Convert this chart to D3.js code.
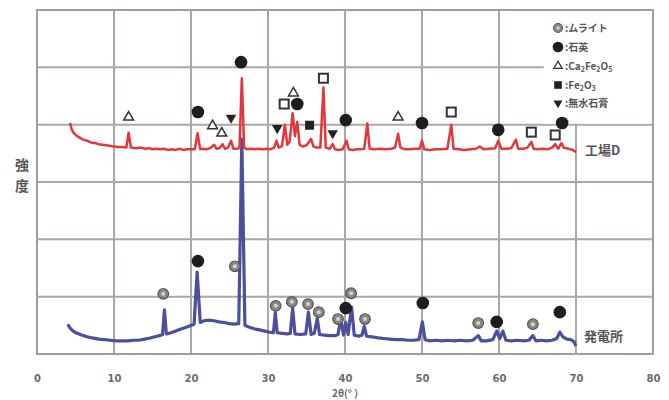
<!DOCTYPE html>
<html>
<head>
<meta charset="utf-8">
<script src="https://cdn.jsdelivr.net/npm/d3@7"></script>
<style>
  body { margin: 0; background: #fff; }
  svg { display: block; font-family: "Noto Sans CJK JP", "Noto Sans", sans-serif; }
</style>
</head>
<body>
<svg id="chart" width="669" height="400"></svg>
<script>
// 2θ axis
const xTicks = [0, 10, 20, 30, 40, 50, 60, 70, 80];
const yGrid = [1, 2, 3, 4, 5];

// 工場D pattern: [2θ, intensity]
const plantD = [
  [4.3, 4.03], [4.5, 3.92], [4.8, 3.85], [5.2, 3.80], [5.6, 3.77], [6, 3.74], [6.5, 3.72], [7, 3.69],
  [7.5, 3.68], [8, 3.66], [8.5, 3.65], [9, 3.64], [9.5, 3.63], [10, 3.62], [10.5, 3.61], [11, 3.61],
  [11.6, 3.60], [11.9, 3.86], [12.2, 3.60], [12.8, 3.59], [13.5, 3.60], [14, 3.58], [14.5, 3.59],
  [15, 3.57], [15.5, 3.58], [16, 3.57], [16.5, 3.58], [17, 3.56], [17.5, 3.57], [18, 3.56], [18.5, 3.58],
  [19, 3.56], [19.5, 3.57], [20, 3.57], [20.5, 3.57], [20.85, 3.85], [21.2, 3.57], [21.6, 3.58],
  [22, 3.57], [22.5, 3.59], [23.0, 3.65], [23.3, 3.58], [23.7, 3.59], [24.1, 3.66], [24.4, 3.58],
  [24.8, 3.60], [25.2, 3.72], [25.5, 3.58], [26.0, 3.58], [26.3, 3.60], [26.6, 4.81], [26.9, 3.60],
  [27.3, 3.57], [27.8, 3.58], [28.3, 3.57], [28.8, 3.58], [29.3, 3.57], [29.8, 3.58], [30.3, 3.57],
  [30.8, 3.60], [31.1, 3.72], [31.4, 3.60], [31.8, 3.62], [32.2, 4.00], [32.5, 3.65], [32.8, 3.70],
  [33.2, 4.20], [33.5, 3.80], [33.8, 4.05], [34.1, 3.65], [34.5, 3.62], [35.0, 3.64], [35.6, 3.75],
  [35.9, 3.62], [36.3, 3.60], [36.8, 3.60], [37.2, 4.65], [37.5, 3.60], [38.0, 3.58], [38.4, 3.66],
  [38.7, 3.57], [39.2, 3.56], [39.7, 3.57], [40.2, 3.72], [40.5, 3.57], [41.0, 3.56], [41.5, 3.57],
  [42.0, 3.57], [42.5, 3.58], [42.9, 4.02], [43.2, 3.58], [43.8, 3.57], [44.5, 3.58], [45.2, 3.57],
  [46.0, 3.58], [46.5, 3.60], [46.9, 3.84], [47.2, 3.60], [47.8, 3.57], [48.5, 3.57], [49.2, 3.58],
  [49.7, 3.58], [50.0, 3.72], [50.3, 3.57], [51, 3.56], [51.8, 3.57], [52.5, 3.57], [53.3, 3.58],
  [53.8, 4.00], [54.1, 3.58], [54.8, 3.57], [55.5, 3.56], [56.3, 3.57], [57.0, 3.58], [57.5, 3.62],
  [58, 3.57], [58.8, 3.58], [59.5, 3.59], [59.9, 3.72], [60.3, 3.58], [61, 3.58], [61.6, 3.59],
  [62.2, 3.74], [62.5, 3.58], [63.2, 3.58], [63.7, 3.60], [64.2, 3.70], [64.5, 3.58], [65, 3.57],
  [65.7, 3.58], [66.3, 3.57], [66.9, 3.60], [67.3, 3.66], [67.7, 3.58], [68.1, 3.68], [68.4, 3.60],
  [69, 3.58], [69.6, 3.56], [70, 3.52]
];

// 発電所 pattern: [2θ, intensity]
const powerPlant = [
  [4.0, 0.52], [4.3, 0.45], [4.7, 0.40], [5.2, 0.36], [5.8, 0.33], [6.5, 0.30], [7.2, 0.28], [8, 0.26],
  [8.8, 0.25], [9.5, 0.24], [10.3, 0.23], [11, 0.23], [11.8, 0.23], [12.5, 0.24], [13.2, 0.24],
  [14, 0.26], [14.7, 0.28], [15.3, 0.30], [15.9, 0.32], [16.3, 0.34], [16.55, 0.77], [16.8, 0.35],
  [17.4, 0.37], [18, 0.40], [18.6, 0.43], [19.2, 0.46], [19.8, 0.49], [20.4, 0.52], [20.8, 1.43],
  [21.2, 0.55], [21.7, 0.58], [22.3, 0.59], [23, 0.58], [23.6, 0.56], [24.3, 0.55], [25, 0.53],
  [25.6, 0.52], [26.2, 0.53], [26.6, 3.75], [27.0, 0.50], [27.5, 0.47], [28.2, 0.44], [28.9, 0.42],
  [29.6, 0.40], [30.3, 0.38], [30.7, 0.37], [30.95, 0.72], [31.2, 0.37], [31.8, 0.36], [32.5, 0.35],
  [32.9, 0.36], [33.2, 0.80], [33.5, 0.35], [34.2, 0.34], [34.9, 0.35], [35.25, 0.73], [35.6, 0.34],
  [36.0, 0.36], [36.4, 0.62], [36.7, 0.34], [37.3, 0.33], [38.0, 0.32], [38.7, 0.32], [39.1, 0.34],
  [39.45, 0.63], [39.8, 0.33], [40.1, 0.55], [40.4, 0.34], [40.85, 0.82], [41.2, 0.33], [41.8, 0.31],
  [42.2, 0.33], [42.5, 0.48], [42.8, 0.31], [43.5, 0.30], [44.3, 0.28], [45, 0.27], [45.8, 0.26],
  [46.6, 0.25], [47.4, 0.25], [48.2, 0.24], [49, 0.24], [49.6, 0.25], [50.05, 0.56], [50.4, 0.25],
  [51, 0.23], [51.8, 0.24], [52.6, 0.23], [53.4, 0.24], [54.2, 0.23], [55, 0.24], [55.8, 0.23],
  [56.6, 0.24], [57.3, 0.32], [57.7, 0.23], [58.4, 0.23], [59.2, 0.25], [59.7, 0.40], [60.1, 0.27],
  [60.5, 0.40], [60.9, 0.24], [61.6, 0.23], [62.4, 0.24], [63.2, 0.23], [63.9, 0.24], [64.4, 0.32],
  [64.8, 0.23], [65.5, 0.24], [66.2, 0.23], [66.9, 0.24], [67.5, 0.27], [67.9, 0.38], [68.3, 0.30],
  [68.8, 0.26], [69.3, 0.25], [69.7, 0.22], [70, 0.14]
];

// peak identification marks: [kind, 2θ, height]
const plantDMarks = [
  ['tri', 11.9, 4.13], ['qtz', 20.9, 4.22], ['tri', 22.8, 3.98], ['tri', 24.0, 3.85], ['anh', 25.2, 4.12],
  ['qtz', 26.5, 5.09], ['anh', 31.2, 3.94], ['hem', 32.1, 4.36], ['tri', 33.3, 4.55], ['qtz', 33.8, 4.36],
  ['sq', 35.4, 3.99], ['hem', 37.2, 4.81], ['anh', 38.4, 3.85], ['qtz', 40.1, 4.08], ['tri', 46.9, 4.13],
  ['qtz', 50.0, 4.03], ['hem', 53.8, 4.22], ['qtz', 59.9, 3.91], ['hem', 64.2, 3.87], ['hem', 67.3, 3.82],
  ['qtz', 68.2, 4.03]
];
const powerPlantMarks = [
  ['mul', 16.4, 1.05], ['qtz', 20.9, 1.62], ['mul', 25.7, 1.53], ['mul', 31.0, 0.84], ['mul', 33.1, 0.91],
  ['mul', 35.2, 0.87], ['mul', 36.6, 0.73], ['mul', 39.1, 0.61], ['qtz', 40.1, 0.80], ['mul', 40.8, 1.06],
  ['mul', 42.6, 0.61], ['qtz', 50.1, 0.89], ['mul', 57.3, 0.54], ['qtz', 59.7, 0.56], ['mul', 64.4, 0.52],
  ['qtz', 67.9, 0.73]
];

const legendKinds = ['mul', 'qtz', 'tri', 'sq', 'anh'];
const legendNames = [['ムライト'], ['石英'], ['Ca', '2', 'Fe', '2', 'O', '5'], ['Fe', '2', 'O', '3'], ['無水石膏']];

const svg = d3.select('#chart');
const x = d3.scaleLinear().domain([0, 80]).range([37, 653]);
const y = d3.scaleLinear().domain([0, 6]).range([354, 10]);
const gridColor = '#ada6a3';

// grid
svg.append('g').selectAll('line.v').data(xTicks.slice(1, -1)).join('line')
  .attr('x1', d => x(d)).attr('x2', d => x(d))
  .attr('y1', y(6)).attr('y2', y(0))
  .attr('stroke', gridColor).attr('stroke-width', 2);
svg.append('g').selectAll('line.h').data(yGrid).join('line')
  .attr('x1', x(0)).attr('x2', x(80))
  .attr('y1', d => y(d)).attr('y2', d => y(d))
  .attr('stroke', gridColor).attr('stroke-width', 2);

// legend area blanks the grid
svg.append('rect')
  .attr('x', x(65.8)).attr('y', y(6) + 1)
  .attr('width', x(80) - x(65.8) - 1).attr('height', y(4) - y(6) - 2)
  .attr('fill', '#fff');

svg.append('rect')
  .attr('x', x(0)).attr('y', y(6))
  .attr('width', x(80) - x(0)).attr('height', y(0) - y(6))
  .attr('fill', 'none').attr('stroke', '#a29d9b').attr('stroke-width', 2);

// x axis labels
const xAxis = svg.append('g')
  .attr('transform', `translate(0,${y(0)})`)
  .call(d3.axisBottom(x).tickValues(xTicks).tickSize(0).tickPadding(21));
xAxis.select('.domain').remove();
xAxis.selectAll('text')
  .attr('font-size', 10).attr('font-weight', 'bold').attr('fill', '#6b6b6b')
  .attr('font-family', '"DejaVu Sans", sans-serif');

svg.append('text')
  .attr('x', 345).attr('y', 397)
  .attr('text-anchor', 'middle')
  .attr('font-size', 10).attr('font-weight', 'bold').attr('fill', '#666')
  .text('2θ(° )');

svg.append('text')
  .attr('x', 22).attr('y', 170)
  .attr('text-anchor', 'middle')
  .attr('font-size', 14).attr('font-weight', 'bold').attr('fill', '#555')
  .text('強');
svg.append('text')
  .attr('x', 22).attr('y', 191)
  .attr('text-anchor', 'middle')
  .attr('font-size', 14).attr('font-weight', 'bold').attr('fill', '#555')
  .text('度');

// spectra
const line = d3.line().x(d => x(d[0])).y(d => y(d[1]));
svg.append('path').datum(powerPlant)
  .attr('d', line).attr('fill', 'none')
  .attr('stroke', '#4b4f9c').attr('stroke-width', 3.2).attr('stroke-linejoin', 'round');
svg.append('path').datum(plantD)
  .attr('d', line).attr('fill', 'none')
  .attr('stroke', '#e2383c').attr('stroke-width', 2.5).attr('stroke-linejoin', 'round');

svg.append('text')
  .attr('x', 585).attr('y', y(3.56) + 5)
  .attr('font-size', 13).attr('font-weight', 'bold').attr('fill', '#555')
  .text('工場D');
svg.append('text')
  .attr('x', 584).attr('y', y(0.3) + 4)
  .attr('font-size', 13).attr('font-weight', 'bold').attr('fill', '#555')
  .text('発電所');

// marks
function drawMark(g, kind, cx, cy) {
  const m = g.append('g').attr('transform', `translate(${cx},${cy})`);
  if (kind === 'qtz') {
    m.append('circle').attr('r', 6.3).attr('fill', '#1e1e1e');
  } else if (kind === 'mul') {
    m.append('circle').attr('r', 5.3).attr('fill', '#8d8784').attr('stroke', '#555').attr('stroke-width', 1.2);
    m.append('circle').attr('r', 2).attr('fill', '#d8d4d2');
  } else if (kind === 'tri') {
    m.append('path').attr('d', d3.symbol(d3.symbolTriangle, 42)())
      .attr('fill', '#fff').attr('stroke', '#333').attr('stroke-width', 1.5);
  } else if (kind === 'hem') {
    m.append('rect').attr('x', -4.5).attr('y', -4.5).attr('width', 9).attr('height', 9)
      .attr('fill', '#fff').attr('stroke', '#333').attr('stroke-width', 2);
  } else if (kind === 'sq') {
    m.append('rect').attr('x', -4.5).attr('y', -4.5).attr('width', 9).attr('height', 9)
      .attr('fill', '#222');
  } else if (kind === 'anh') {
    m.append('path').attr('d', d3.symbol(d3.symbolTriangle, 48)())
      .attr('transform', 'rotate(180)').attr('fill', '#222');
  }
}

const markG = svg.append('g');
plantDMarks.forEach(d => drawMark(markG, d[0], x(d[1]), y(d[2])));
powerPlantMarks.forEach(d => drawMark(markG, d[0], x(d[1]), y(d[2])));

// legend
const legendY = [28, 47, 66, 85, 103];
legendKinds.forEach((k, i) => {
  const g = svg.append('g');
  drawMark(g, k, 558, legendY[i]);
  g.select('g').attr('transform', `translate(558,${legendY[i]}) scale(0.85)`);
  const t = g.append('text')
    .attr('x', 565).attr('y', legendY[i] + 4)
    .attr('font-size', 10).attr('font-weight', 'bold').attr('fill', '#555');
  t.append('tspan').text(':');
  const parts = legendNames[i];
  parts.forEach((p, j) => {
    const sub = parts.length > 1 && j % 2 === 1;
    t.append('tspan')
      .attr('font-size', sub ? 7 : 10)
      .attr('dy', sub ? 2 : (j > 0 ? -2 : 0))
      .text(p);
  });
});
</script>
</body>
</html>
